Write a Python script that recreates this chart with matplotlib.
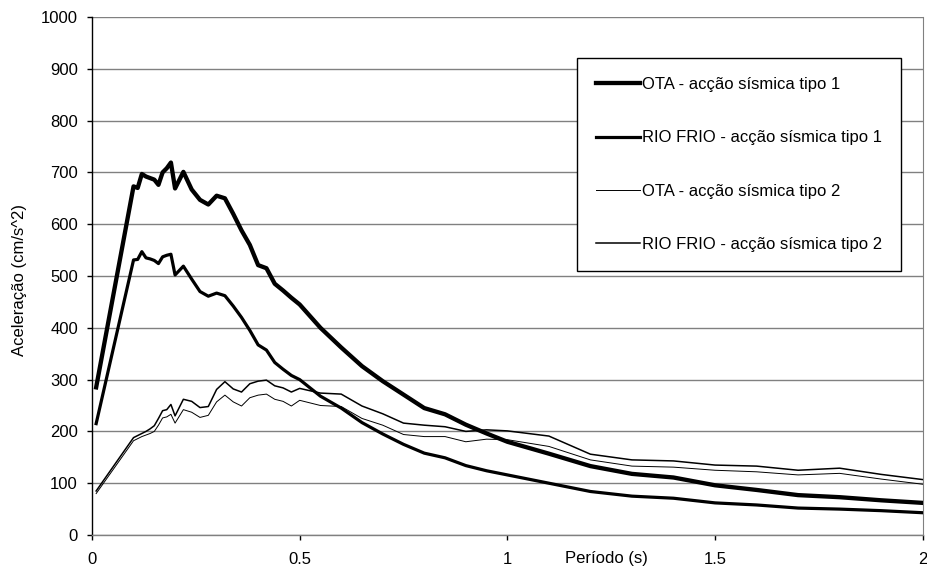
import matplotlib
matplotlib.use("Agg")
import matplotlib.pyplot as plt

plt.rcParams['font.family'] = ['Liberation Sans', 'DejaVu Sans']

periods = [0.01, 0.10, 0.11, 0.12, 0.13, 0.14, 0.15, 0.16, 0.17, 0.18, 0.19, 0.20,
           0.22, 0.24, 0.26, 0.28, 0.30, 0.32, 0.34, 0.36, 0.38, 0.40, 0.42, 0.44,
           0.46, 0.48, 0.50, 0.55, 0.60, 0.65, 0.70, 0.75, 0.80, 0.85, 0.90, 0.95,
           1.00, 1.10, 1.20, 1.30, 1.40, 1.50, 1.60, 1.70, 1.80, 1.90, 2.00]

ota_tipo1 = [285, 673, 670, 697, 692, 689, 686, 676, 700, 708, 719, 669,
             701, 667, 647, 638, 655, 650, 620, 588, 560, 521, 515, 485,
             472, 458, 445, 400, 362, 326, 297, 271, 245, 233, 213, 196,
             180, 157, 133, 118, 111, 96, 87, 77, 73, 67, 62]

rio_tipo1 = [215, 531, 532, 547, 535, 533, 530, 524, 537, 540, 542, 502,
             519, 494, 470, 461, 467, 462, 442, 420, 395, 367, 357, 333,
             320, 308, 300, 268, 245, 217, 195, 175, 158, 149, 134, 124,
             116, 100, 84, 75, 71, 62, 58, 52, 50, 47, 43]

ota_tipo2 = [80, 182, 186, 190, 193, 196, 200, 212, 226, 228, 233, 216,
             242, 237, 227, 231, 257, 270, 257, 249, 265, 270, 272, 262,
             258, 249, 260, 250, 248, 225, 212, 194, 190, 190, 180, 185,
             184, 171, 145, 133, 131, 125, 122, 116, 119, 108, 98]

rio_tipo2 = [85, 188, 192, 196, 200, 205, 211, 225, 240, 242, 252, 230,
             262, 258, 246, 248, 281, 296, 282, 276, 292, 297, 299, 288,
             284, 276, 283, 274, 272, 249, 234, 216, 212, 209, 200, 203,
             201, 191, 156, 145, 143, 135, 133, 125, 129, 117, 107]

labels = ["OTA - acção sísmica tipo 1", "RIO FRIO - acção sísmica tipo 1",
          "OTA - acção sísmica tipo 2", "RIO FRIO - acção sísmica tipo 2"]

FS = 12

fig = plt.figure(figsize=(9.28, 5.73), dpi=100)
ax = fig.add_axes([92/928, 1-535/573, (922.7-92)/928, (535-17)/573])

ax.plot(periods, ota_tipo1, color='black', lw=3.1, label=labels[0], zorder=5)
ax.plot(periods, rio_tipo1, color='black', lw=2.3, label=labels[1], zorder=5)
ax.plot(periods, ota_tipo2, color='black', lw=0.7, label=labels[2], zorder=5)
ax.plot(periods, rio_tipo2, color='black', lw=1.1, label=labels[3], zorder=5)

ax.set_xlim(0, 2)
ax.set_ylim(0, 1000)
ax.set_xticks([0, 0.5, 1, 1.5, 2])
ax.set_xticklabels(['0', '0.5', '1', '1.5', '2'])
ax.set_yticks(range(0, 1001, 100))
ax.yaxis.grid(True, color='#808080', lw=1.0)
ax.set_axisbelow(True)

ax.spines['top'].set_visible(False)
ax.spines['right'].set_color('#808080')
ax.spines['left'].set_color('black')
ax.spines['bottom'].set_color('#808080')
ax.spines['left'].set_linewidth(1.0)
ax.spines['bottom'].set_linewidth(1.0)
ax.tick_params(axis='both', direction='out', length=3.6, width=1, labelsize=FS, colors='black')
ax.tick_params(axis='x', pad=8.5)
ax.tick_params(axis='y', pad=6.5)

fig.text(565/928, 1-559/573, "Período (s)", fontsize=FS, ha='left', va='center')
fig.text(19.5/928, 1-280/573, "Aceleração (cm/s^2)", fontsize=FS, rotation=90,
         ha='center', va='center')

leg = ax.legend(loc='upper left', bbox_to_anchor=(577/928, 1-58/573),
                bbox_transform=fig.transFigure, fontsize=FS, frameon=True,
                fancybox=False, shadow=False, borderaxespad=0, borderpad=1.15,
                labelspacing=2.3, handlelength=2.65, handletextpad=0.1)
leg.get_frame().set_edgecolor('black')
leg.get_frame().set_linewidth(1.0)
leg.get_frame().set_alpha(1)

fig.savefig("out.png", dpi=100)
